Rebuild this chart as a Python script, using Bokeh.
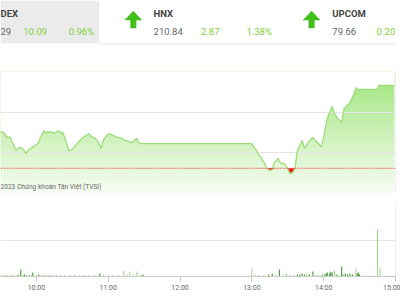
import numpy as np
from bokeh.plotting import figure
from bokeh.layouts import column
from bokeh.models import Range1d, FixedTicker, Span, ColumnDataSource, Label
from bokeh.core.properties import value
from bokeh.transform import factor_cmap
from bokeh.embed import file_html
from bokeh.resources import INLINE

# ---------------- header data ----------------
idx_names = ["DEX", "HNX", "UPCOM"]
idx_values = ["29", "210.84", "79.66"]
idx_changes = ["10.09", "2.87", "0.20"]
idx_pcts = ["0.96%", "1.38%"]

# ---------------- price data (intraday) ----------------
ref_price = 1051.10
price_times = [
    "9:15", "9:30", "9:32", "9:34", "9:36", "9:38", "9:40", "9:42", "9:43", "9:44",
    "9:46", "9:47", "9:49", "9:50", "9:51", "9:53", "9:55", "9:57", "9:59", "10:02",
    "10:03", "10:05", "10:06", "10:08", "10:09", "10:11", "10:12", "10:14", "10:16", "10:18",
    "10:20", "10:21", "10:22", "10:24", "10:26", "10:27", "10:29", "10:30", "10:32", "10:34",
    "10:37", "10:39", "10:42", "10:44", "10:46", "10:48", "10:50", "10:51", "10:53", "10:54",
    "10:56", "10:58", "11:00", "11:03", "11:06", "11:09", "11:12", "11:14", "11:16", "11:18",
    "11:20", "11:22", "11:24", "11:25", "11:27", "11:29", "11:30", "13:00", "13:02", "13:04",
    "13:05", "13:07", "13:09", "13:11", "13:12", "13:14", "13:15", "13:17", "13:19", "13:22",
    "13:23", "13:25", "13:27", "13:29", "13:30", "13:31", "13:32", "13:33", "13:34", "13:35",
    "13:36", "13:37", "13:38", "13:40", "13:42", "13:44", "13:46", "13:47", "13:49", "13:51",
    "13:53", "13:55", "13:57", "13:58", "14:00", "14:01", "14:03", "14:05", "14:07", "14:09",
    "14:12", "14:15", "14:17", "14:20", "14:22", "14:24", "14:26", "14:27", "14:28", "14:45",
    "14:46", "14:59",
]
price_values = [
    1055.50, 1055.50, 1055.62, 1055.20, 1054.88, 1054.95, 1054.27, 1053.65, 1053.28, 1053.41,
    1053.70, 1053.65, 1053.41, 1053.20, 1052.91, 1053.28, 1053.53, 1053.70, 1053.90, 1054.27,
    1054.76, 1055.30, 1055.74, 1055.37, 1055.62, 1055.50, 1055.62, 1055.40, 1055.50, 1055.70,
    1055.62, 1055.30, 1055.50, 1054.76, 1053.80, 1053.28, 1053.35, 1053.41, 1053.80, 1054.14,
    1054.60, 1054.88, 1055.20, 1055.37, 1055.00, 1054.88, 1054.60, 1054.51, 1053.90, 1053.53,
    1054.60, 1055.00, 1055.37, 1055.20, 1055.00, 1054.85, 1054.76, 1054.50, 1054.51, 1054.30,
    1054.27, 1054.60, 1054.76, 1054.30, 1054.14, 1054.14, 1054.14, 1054.14, 1053.65, 1053.30,
    1052.91, 1052.60, 1052.05, 1051.60, 1051.15, 1050.95, 1050.85, 1050.90, 1051.81, 1052.30,
    1051.90, 1051.68, 1051.68, 1051.30, 1051.05, 1050.70, 1050.50, 1050.45, 1050.60, 1050.80,
    1051.20, 1052.20, 1053.28, 1053.90, 1054.51, 1053.53, 1054.00, 1054.27, 1054.60, 1054.88,
    1054.50, 1054.27, 1053.90, 1053.77, 1054.90, 1055.74, 1057.22, 1058.00, 1058.69, 1057.83,
    1057.20, 1056.73, 1058.45, 1058.90, 1059.19, 1059.80, 1060.50, 1061.03, 1060.79, 1060.79,
    1061.29, 1061.29,
]

# ---------------- volume data ----------------
vol_times = [
    "9:30", "9:32", "9:34", "9:36", "9:38", "9:40", "9:42", "9:44", "9:45", "9:47",
    "9:49", "9:50", "9:52", "9:54", "9:56", "9:57", "10:00", "10:02", "10:04", "10:06",
    "10:08", "10:10", "10:12", "10:14", "10:17", "10:20", "10:24", "10:28", "10:32", "10:36",
    "10:40", "10:44", "10:48", "10:53", "10:56", "11:00", "11:04", "11:08", "11:13", "11:16",
    "11:18", "11:21", "11:24", "11:27", "11:29",
    "13:00", "13:03", "13:06", "13:10", "13:14", "13:17", "13:20", "13:23", "13:26", "13:29",
    "13:32", "13:35", "13:38", "13:40", "13:42", "13:44", "13:46", "13:48", "13:51", "13:53",
    "13:55", "13:57", "13:59", "14:01", "14:02", "14:03", "14:05", "14:06", "14:07", "14:09",
    "14:11", "14:15", "14:16", "14:18", "14:20", "14:22", "14:24", "14:27", "14:28", "14:29",
    "14:30", "14:33", "14:36", "14:39", "14:42", "14:45", "14:47", "14:50", "14:53", "14:56",
    "14:59",
]
vol_values = [
    0.30, 0.30, 0.28, 0.30, 0.55, 0.30, 0.28, 0.55, 0.30, 1.95,
    0.30, 0.55, 0.30, 0.28, 0.30, 1.10, 0.30, 0.55, 0.30, 0.55,
    0.30, 0.28, 0.30, 0.28, 0.30, 0.28, 0.30, 0.28, 0.30, 0.28,
    0.30, 0.28, 0.30, 0.83, 0.28, 0.30, 0.28, 0.30, 1.70, 0.30,
    1.40, 0.30, 1.40, 0.30, 0.55,
    2.20, 0.28, 0.28, 0.30, 0.55, 0.83, 0.30, 1.95, 0.30, 0.83,
    0.30, 0.28, 0.55, 0.55, 0.83, 0.55, 0.83, 0.55, 1.40, 0.30,
    0.28, 0.30, 0.83, 0.55, 0.83, 1.10, 0.83, 1.40, 1.10, 1.70,
    0.55, 2.80, 0.55, 0.83, 0.55, 0.83, 0.55, 2.20, 0.83, 1.10,
    0.55, 0.28, 0.28, 0.28, 0.28, 13.10, 2.20, 0.28, 0.28, 0.28,
    0.28,
]
vol_sides = [
    "S", "S", "S", "S", "B", "S", "B", "B", "S", "S",
    "S", "S", "S", "S", "S", "S", "B", "S", "S", "B",
    "S", "S", "S", "S", "S", "S", "S", "S", "S", "S",
    "S", "S", "S", "S", "S", "S", "S", "S", "B", "S",
    "B", "S", "B", "S", "S",
    "B", "S", "S", "S", "S", "S", "S", "S", "S", "B",
    "S", "S", "S", "S", "S", "S", "B", "S", "S", "S",
    "S", "S", "B", "S", "S", "S", "S", "S", "S", "B",
    "S", "S", "S", "S", "S", "S", "S", "B", "S", "S",
    "S", "B", "B", "B", "B", "B", "B", "B", "B", "B",
    "B",
]

tick_labels = ["10:00", "11:00", "12:00", "13:00", "14:00", "15:00"]


def to_min(s):
    h, m = s.split(":")
    return int(h) * 60 + int(m) - 540  # minutes since 9:00


t_price = np.array([to_min(s) for s in price_times], dtype=float)
v_price = np.array(price_values)
t_vol = [to_min(s) for s in vol_times]
tick_pos = [to_min(s) for s in tick_labels]

FONT = "Roboto"
GREEN_TXT = "#7fd03a"

# ---------------- header ----------------
h = figure(width=400, height=45, x_range=Range1d(0, 400), y_range=Range1d(45, 0),
           output_backend="svg", toolbar_location=None, min_border=0)
h.axis.visible = False
h.grid.visible = False
h.outline_line_color = None
h.background_fill_color = "white"
h.quad(left=0, right=100, top=0, bottom=43, fill_color="#ebebeb", line_color=None)
h.segment(x0=100, y0=43.5, x1=400, y1=43.5, line_color="#e6e6e6", line_width=1)

name_x = [0, 155, 336]
chg_x = [23, 203, 381]
pct_x = [69, 249]
h.text(x=name_x, y=[13] * 3, text=idx_names, text_font=value(FONT), text_font_style="bold",
       text_font_size="9.5px", text_color="#444444", text_baseline="middle")
h.text(x=name_x, y=[31] * 3, text=idx_values, text_font=value(FONT),
       text_font_size="9.5px", text_color="#666666", text_baseline="middle")
h.text(x=chg_x, y=[31] * 3, text=idx_changes, text_font=value(FONT),
       text_font_size="9.5px", text_color=GREEN_TXT, text_baseline="middle")
h.text(x=pct_x, y=[31] * 2, text=idx_pcts, text_font=value(FONT),
       text_font_size="9.5px", text_color=GREEN_TXT, text_baseline="middle")
for cx in (134.5, 315):
    h.patch(x=[cx, cx + 8.5, cx + 2.8, cx + 2.8, cx - 2.8, cx - 2.8, cx - 8.5],
            y=[10.5, 19.5, 19.5, 27.5, 27.5, 19.5, 19.5],
            fill_color="#43bf1c", line_color="#43bf1c", line_width=0.5)

# ---------------- price chart ----------------
ylo, yhi = 1048.0, 1063.0
p = figure(width=400, height=150, x_range=Range1d(30, 360), y_range=Range1d(ylo, yhi),
           output_backend="svg", toolbar_location=None,
           min_border_top=26, min_border_bottom=2, min_border_left=0, min_border_right=5)
p.axis.visible = False
p.xgrid.visible = False
p.ygrid.ticker = FixedTicker(ticks=[1048, 1053, 1058, 1063])
p.ygrid.grid_line_color = "#e6e6e6"
p.outline_line_color = None

# vertical gradient (image level, under the grid)
n = 128
frac = np.linspace(0, 1, n)[:, None]
top_c = np.array([160, 229, 124])
bot_c = np.array([248, 253, 245])
cols = bot_c + (top_c - bot_c) * frac
img = np.empty((n, 1), dtype=np.uint32)
view = img.view(dtype=np.uint8).reshape((n, 1, 4))
view[:, :, 0] = cols[:, 0:1]
view[:, :, 1] = cols[:, 1:2]
view[:, :, 2] = cols[:, 2:3]
view[:, :, 3] = 255
t0, t1 = t_price[0], t_price[-1]
p.image_rgba(image=[img], x=t0, y=ylo, dw=t1 - t0, dh=yhi - ylo, level="image")
# white mask above the price line
p.varea(x=t_price, y1=v_price, y2=yhi, fill_color="white", level="image")

# red area where price is under the reference
below = np.minimum(v_price, ref_price)
p.varea(x=t_price, y1=below, y2=ref_price, fill_color="#ff1414")

p.line(t_price, v_price, line_color="#9bde78", line_width=1.3)

p.add_layout(Span(location=ref_price, dimension="width", line_color="#f0443a",
                  line_dash="2 1", line_width=1, line_alpha=0.8))
p.add_layout(Span(location=360, dimension="height", line_color="#dddddd", line_width=1))
p.add_layout(Label(x=30, y=1048.75, text="2023 Chứng khoán Tân Việt (TVSI)",
                   text_align="left", text_baseline="middle", text_font=FONT,
                   text_font_size="6.6px", text_color="#666666"))

# ---------------- volume chart ----------------
v = figure(width=400, height=105, x_range=p.x_range, y_range=Range1d(0, 20),
           output_backend="svg", toolbar_location=None,
           min_border_top=9, min_border_bottom=24, min_border_left=0, min_border_right=5)
v.yaxis.visible = False
v.xgrid.visible = False
v.ygrid.ticker = FixedTicker(ticks=[10, 20])
v.ygrid.grid_line_color = "#e6e6e6"
v.outline_line_color = None
v.xaxis.ticker = FixedTicker(ticks=tick_pos)
v.xaxis.major_label_overrides = {tp: lab for tp, lab in zip(tick_pos, tick_labels)}
v.xaxis.axis_line_color = "#cccccc"
v.xaxis.major_tick_line_color = "#cccccc"
v.xaxis.minor_tick_line_color = None
v.xaxis.major_tick_out = 5
v.xaxis.major_tick_in = 0
v.xaxis.major_label_standoff = 2
v.xaxis.major_label_text_font = FONT
v.xaxis.major_label_text_font_size = "7px"
v.xaxis.major_label_text_color = "#666666"

vsrc = ColumnDataSource(dict(t=t_vol, v=vol_values, side=vol_sides))
v.vbar(x="t", top="v", width=0.9, source=vsrc, line_color=None,
       fill_color=factor_cmap("side", ["#9fd489", "#3a9a28"], ["B", "S"]))
v.add_layout(Span(location=360, dimension="height", line_color="#dddddd", line_width=1))

layout = column(h, p, v, spacing=0)
open("out.html", "w").write(file_html(layout, INLINE))
